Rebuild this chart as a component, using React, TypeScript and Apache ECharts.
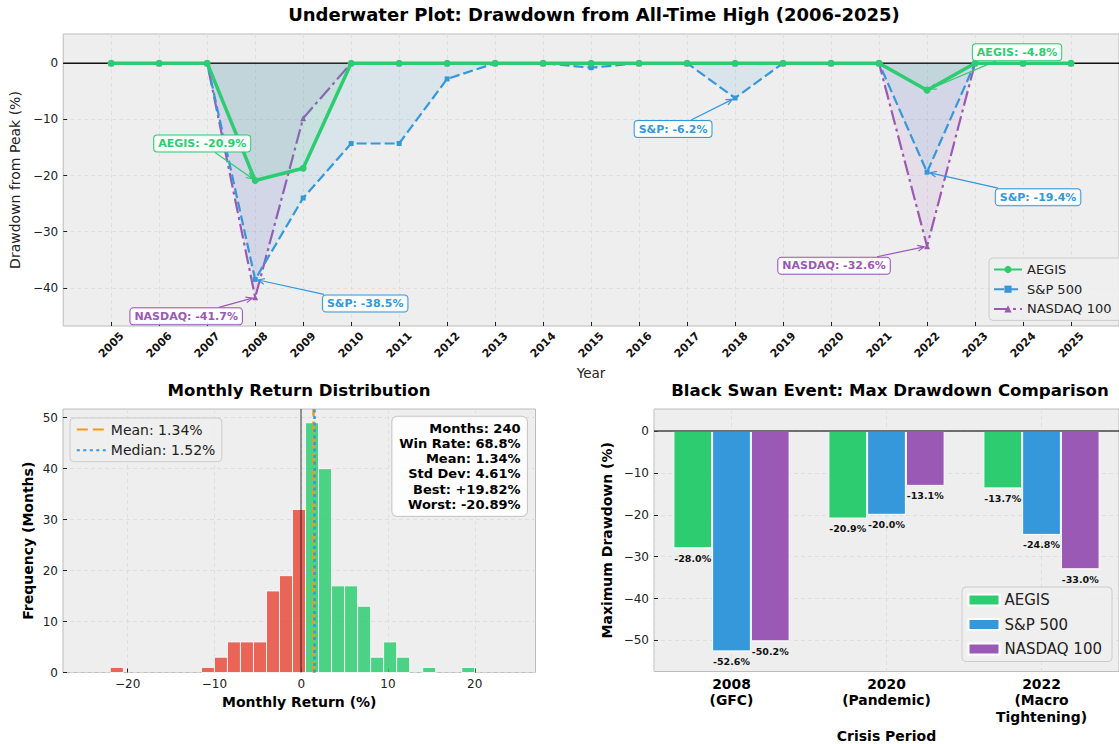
import React, { useEffect, useRef } from 'react';
import * as echarts from 'echarts';

const FONT = '"DejaVu Sans", Verdana, sans-serif';

// ---------- Data ----------
const YEARS = [2005, 2006, 2007, 2008, 2009, 2010, 2011, 2012, 2013, 2014, 2015, 2016, 2017, 2018, 2019, 2020, 2021, 2022, 2023, 2024, 2025];
const AEGIS_DD = [0, 0, 0, -20.9, -18.7, 0, 0, 0, 0, 0, 0, 0, 0, 0, 0, 0, 0, -4.8, 0, 0, 0];
const SP500_DD = [0, 0, 0, -38.5, -24.0, -14.3, -14.3, -2.8, 0, 0, -0.8, 0, 0, -6.2, 0, 0, 0, -19.4, 0, 0, 0];
const NASDAQ_DD = [0, 0, 0, -41.7, -9.8, 0, 0, 0, 0, 0, 0, 0, 0, 0, 0, 0, 0, -32.6, 0, 0, 0];
const DD_TICKS = [0, -10, -20, -30, -40];

const BIN_EDGES = [-22, -20.5, -19, -17.5, -16, -14.5, -13, -11.5, -10, -8.5, -7, -5.5, -4, -2.5, -1, 0.5, 2, 3.5, 5, 6.5, 8, 9.5, 11, 12.5, 14, 15.5, 17, 18.5, 20];
const BIN_COUNTS = [1, 0, 0, 0, 0, 0, 0, 1, 3, 6, 6, 6, 16, 19, 32, 49, 40, 17, 17, 13, 3, 6, 3, 0, 1, 0, 0, 1];
const RET_TICKS = [-20, -10, 0, 10, 20];
const FREQ_TICKS = [0, 10, 20, 30, 40, 50];
const MEAN_RET = 1.34;
const MEDIAN_RET = 1.52;
const STAT_MONTHS = 240;
const STAT_WIN = 68.8;
const STAT_STD = 4.61;
const STAT_BEST = 19.82;
const STAT_WORST = -20.89;

const CRISES = ['2008\n(GFC)', '2020\n(Pandemic)', '2022\n(Macro\nTightening)'];
const AEGIS_MDD = [-28.0, -20.9, -13.7];
const SP500_MDD = [-52.6, -20.0, -24.8];
const NASDAQ_MDD = [-50.2, -13.1, -33.0];
const MDD_TICKS = [0, -10, -20, -30, -40, -50];

// ---------- Styles ----------
const GREEN = '#2ecc71';
const BLUE = '#3498db';
const PURPLE = '#9b59b6';
const RED = '#e74c3c';
const ORANGE = '#f39c12';
const BG = '#eeeeee';
const SPINE = '#bcbcbc';
const GRIDLINE = { color: '#dadada', type: [4, 3] as any, width: 0.8 };
const TICK = { inside: true, length: 4, lineStyle: { color: '#222', width: 1 } };
const TICKLABEL = { fontSize: 12, color: '#222', fontFamily: FONT, margin: 5 };
const NO_LINE = { show: false, onZero: false };

const X_MIN = 2004;
const X_MAX = 2026;

const isMult10 = (v: number) => Math.abs(v / 10 - Math.round(v / 10)) < 1e-6;
const fmtNum = (v: number) => (v < 0 ? '\u2212' + Math.abs(v) : String(v));
const tenFmt = (v: number) => (isMult10(v) ? fmtNum(v) : '');

const SERIES_INFO: Record<string, { data: number[]; color: string }> = {
  AEGIS: { data: AEGIS_DD, color: GREEN },
  'S&P': { data: SP500_DD, color: BLUE },
  NASDAQ: { data: NASDAQ_DD, color: PURPLE },
};

// annotation placement (pixel offsets of the label box from the annotated point)
const ANNOTS = [
  { s: 'AEGIS', year: 2008, dx: -53, dy: -37 },
  { s: 'NASDAQ', year: 2008, dx: -69, dy: 19 },
  { s: 'S&P', year: 2008, dx: 110, dy: 24 },
  { s: 'S&P', year: 2018, dx: -62, dy: 31 },
  { s: 'AEGIS', year: 2022, dx: 90, dy: -38 },
  { s: 'S&P', year: 2022, dx: 111, dy: 25 },
  { s: 'NASDAQ', year: 2022, dx: -93, dy: 19.5 },
];

function buildOption(): any {
  const meanLabel = `Mean: ${MEAN_RET.toFixed(2)}%`;
  const medianLabel = `Median: ${MEDIAN_RET.toFixed(2)}%`;
  const legendCommon = {
    orient: 'vertical',
    selectedMode: false,
    backgroundColor: 'rgba(238,238,238,0.85)',
    borderColor: '#cccccc',
    borderWidth: 1,
    borderRadius: 4,
  };
  const markCommon = {
    silent: true,
    symbol: ['none', 'none'],
    label: { show: false },
    emphasis: { disabled: true },
  };
  return {
    animation: false,
    textStyle: { fontFamily: FONT },
    title: [
      {
        text: 'Underwater Plot: Drawdown from All-Time High (2006-2025)',
        left: 594, top: 5, textAlign: 'center', padding: 0,
        textStyle: { fontSize: 18, fontWeight: 'bold', color: '#000', fontFamily: FONT },
      },
      {
        text: 'Monthly Return Distribution',
        left: 299, top: 382, textAlign: 'center', padding: 0,
        textStyle: { fontSize: 16.6, fontWeight: 'bold', color: '#000', fontFamily: FONT },
      },
      {
        text: 'Black Swan Event: Max Drawdown Comparison',
        left: 890, top: 382, textAlign: 'center', padding: 0,
        textStyle: { fontSize: 16.6, fontWeight: 'bold', color: '#000', fontFamily: FONT },
      },
    ],
    grid: [
      { left: 63, top: 34, width: 1062, height: 292, show: true, backgroundColor: BG, borderColor: SPINE, borderWidth: 1 },
      { left: 63, top: 409, width: 472.5, height: 263.5, show: true, backgroundColor: BG, borderColor: SPINE, borderWidth: 1 },
      { left: 654, top: 409, width: 472, height: 262.5, show: true, backgroundColor: BG, borderColor: SPINE, borderWidth: 1 },
    ],
    legend: [
      {
        ...legendCommon,
        data: ['AEGIS', 'S&P 500', 'NASDAQ 100'],
        left: 989, top: 258,
        itemWidth: 28, itemHeight: 9, itemGap: 6.7,
        padding: [5, 30, 5, 4],
        textStyle: { fontFamily: FONT, fontSize: 13, color: '#222' },
      },
      {
        ...legendCommon,
        data: [meanLabel, medianLabel],
        left: 70, top: 418,
        itemWidth: 29, itemHeight: 10, itemGap: 6.7,
        padding: [4.5, 6.5, 4.5, 5.8],
        itemStyle: { opacity: 0 },
        textStyle: { fontFamily: FONT, fontSize: 14, color: '#222' },
      },
      {
        ...legendCommon,
        data: ['AEGIS#b', 'S&P 500#b', 'NASDAQ 100#b'],
        formatter: (n: string) => n.replace('#b', ''),
        icon: 'rect',
        left: 962, top: 587,
        itemWidth: 31, itemHeight: 11, itemGap: 9.5,
        padding: [5.5, 10, 5, 5.5],
        textStyle: { fontFamily: FONT, fontSize: 15, color: '#222' },
      },
    ],
    xAxis: [
      {
        gridIndex: 0, type: 'value', min: X_MIN, max: X_MAX, interval: 1,
        name: 'Year', nameLocation: 'middle', nameGap: 40,
        nameTextStyle: { fontSize: 13.5, color: '#222', fontFamily: FONT },
        axisLine: NO_LINE,
        axisTick: { ...TICK, customValues: YEARS },
        axisLabel: {
          ...TICKLABEL, fontSize: 11, fontWeight: 'bold', color: '#111', rotate: 45, margin: 19,
          align: 'center', verticalAlign: 'middle',
          customValues: YEARS,
          formatter: (v: number) => (v < YEARS[0] || v > YEARS[YEARS.length - 1] ? '' : String(v)),
        },
        splitLine: { show: true, lineStyle: GRIDLINE },
      },
      {
        gridIndex: 1, type: 'value', min: -27.45, max: 27,
        name: 'Monthly Return (%)', nameLocation: 'middle', nameGap: 22,
        nameTextStyle: { fontSize: 14, fontWeight: 'bold', color: '#000', fontFamily: FONT },
        axisLine: NO_LINE,
        axisTick: { ...TICK, customValues: RET_TICKS },
        axisLabel: { ...TICKLABEL, customValues: RET_TICKS, formatter: tenFmt },
        splitLine: { show: true, lineStyle: GRIDLINE },
      },
      {
        gridIndex: 2, type: 'category', data: CRISES,
        name: 'Crisis Period', nameLocation: 'middle', nameGap: 57,
        nameTextStyle: { fontSize: 14, fontWeight: 'bold', color: '#000', fontFamily: FONT },
        axisLine: NO_LINE,
        axisTick: { ...TICK, alignWithLabel: true },
        axisLabel: { fontSize: 13.9, fontWeight: 'bold', color: '#000', fontFamily: FONT, lineHeight: 16.5, margin: 4, interval: 0 },
        splitLine: { show: false },
      },
      {
        gridIndex: 2, type: 'value', min: -0.5, max: 2.5, minInterval: 1, maxInterval: 1, position: 'top',
        axisLine: NO_LINE, axisTick: { show: false }, axisLabel: { show: false },
        splitLine: { show: true, lineStyle: GRIDLINE },
      },
    ],
    yAxis: [
      {
        gridIndex: 0, type: 'value', min: -46.8, max: 5.2,
        name: 'Drawdown from Peak (%)', nameLocation: 'middle', nameGap: 38, nameRotate: 90,
        nameTextStyle: { fontSize: 14, color: '#222', fontFamily: FONT },
        axisLine: NO_LINE,
        axisTick: { ...TICK, customValues: DD_TICKS },
        axisLabel: { ...TICKLABEL, customValues: DD_TICKS, formatter: tenFmt },
        splitLine: { show: true, lineStyle: GRIDLINE },
      },
      {
        gridIndex: 1, type: 'value', min: 0, max: 51.7,
        name: 'Frequency (Months)', nameLocation: 'middle', nameGap: 28, nameRotate: 90,
        nameTextStyle: { fontSize: 14, fontWeight: 'bold', color: '#000', fontFamily: FONT },
        axisLine: NO_LINE,
        axisTick: { ...TICK, customValues: FREQ_TICKS },
        axisLabel: { ...TICKLABEL, customValues: FREQ_TICKS, formatter: tenFmt },
        splitLine: { show: true, lineStyle: GRIDLINE },
      },
      {
        gridIndex: 2, type: 'value', min: -57.4, max: 5.25,
        name: 'Maximum Drawdown (%)', nameLocation: 'middle', nameGap: 40, nameRotate: 90,
        nameTextStyle: { fontSize: 14, fontWeight: 'bold', color: '#000', fontFamily: FONT },
        axisLine: NO_LINE,
        axisTick: { ...TICK, customValues: MDD_TICKS },
        axisLabel: { ...TICKLABEL, customValues: MDD_TICKS, formatter: tenFmt },
        splitLine: { show: true, lineStyle: GRIDLINE },
      },
    ],
    series: [
      // --- underwater plot ---
      {
        type: 'line', name: '__zero', xAxisIndex: 0, yAxisIndex: 0, silent: true,
        data: [[X_MIN, 0], [X_MAX, 0]], symbol: 'none',
        lineStyle: { color: '#111', width: 1.5 }, z: 1,
      },
      {
        type: 'line', name: 'NASDAQ 100', xAxisIndex: 0, yAxisIndex: 0,
        data: YEARS.map((y, i) => [y, NASDAQ_DD[i]]),
        symbol: 'triangle', symbolSize: 6, color: PURPLE,
        itemStyle: { color: PURPLE },
        lineStyle: { color: PURPLE, width: 2.2, type: [15, 4, 3, 4] },
        areaStyle: { color: PURPLE, opacity: 0.1 },
        z: 2,
      },
      {
        type: 'line', name: 'S&P 500', xAxisIndex: 0, yAxisIndex: 0,
        data: YEARS.map((y, i) => [y, SP500_DD[i]]),
        symbol: 'rect', symbolSize: 5, color: BLUE,
        itemStyle: { color: BLUE },
        lineStyle: { color: BLUE, width: 2.2, type: [10, 4] },
        areaStyle: { color: BLUE, opacity: 0.1 },
        z: 3,
      },
      {
        type: 'line', name: 'AEGIS', xAxisIndex: 0, yAxisIndex: 0,
        data: YEARS.map((y, i) => [y, AEGIS_DD[i]]),
        symbol: 'circle', symbolSize: 7, color: GREEN,
        itemStyle: { color: GREEN },
        lineStyle: { color: GREEN, width: 3.5 },
        areaStyle: { color: GREEN, opacity: 0.1 },
        z: 4,
      },
      // --- histogram ---
      {
        type: 'custom', name: '__hist', xAxisIndex: 1, yAxisIndex: 1, silent: true,
        data: BIN_COUNTS.map((c, i) => [BIN_EDGES[i], BIN_EDGES[i + 1], c]),
        encode: { x: [0, 1], y: 2 },
        renderItem: (params: any, api: any) => {
          const x0 = api.value(0);
          const x1 = api.value(1);
          const c = api.value(2);
          if (!c) return { type: 'group', children: [] };
          const p0 = api.coord([x0, c]);
          const p1 = api.coord([x1, 0]);
          return {
            type: 'rect',
            shape: { x: p0[0], y: p0[1], width: p1[0] - p0[0], height: p1[1] - p0[1] },
            style: { fill: (x0 + x1) / 2 < 0 ? RED : GREEN, opacity: 0.85, stroke: '#ffffff', lineWidth: 1 },
          };
        },
        z: 2,
      },
      {
        type: 'line', name: '__zerov', xAxisIndex: 1, yAxisIndex: 1, data: [],
        markLine: { ...markCommon, lineStyle: { color: 'rgba(0,0,0,0.5)', width: 1.5, type: 'solid' }, data: [{ xAxis: 0 }] },
      },
      {
        type: 'line', name: meanLabel, xAxisIndex: 1, yAxisIndex: 1, data: [], symbol: 'none',
        color: ORANGE, itemStyle: { color: ORANGE },
        lineStyle: { color: ORANGE, width: 2.5, type: [11, 5] },
        markLine: { ...markCommon, lineStyle: { color: ORANGE, width: 2.5, type: [11, 5] }, data: [{ xAxis: MEAN_RET }] },
      },
      {
        type: 'line', name: medianLabel, xAxisIndex: 1, yAxisIndex: 1, data: [], symbol: 'none',
        color: BLUE, itemStyle: { color: BLUE },
        lineStyle: { color: BLUE, width: 2.5, type: [3, 3.5] },
        markLine: { ...markCommon, lineStyle: { color: BLUE, width: 2.5, type: [3, 3.5] }, data: [{ xAxis: MEDIAN_RET }] },
      },
      // --- black swan bars ---
      ...[
        { name: 'AEGIS#b', data: AEGIS_MDD, color: GREEN },
        { name: 'S&P 500#b', data: SP500_MDD, color: BLUE },
        { name: 'NASDAQ 100#b', data: NASDAQ_MDD, color: PURPLE },
      ].map((s, idx) => ({
        type: 'bar', name: s.name, xAxisIndex: 2, yAxisIndex: 2,
        data: s.data, barWidth: '25%', barGap: '0%',
        color: s.color,
        itemStyle: { color: s.color, borderColor: '#ffffff', borderWidth: 1 },
        label: {
          show: true, position: 'bottom', distance: 5,
          formatter: (p: any) => `${Number(p.value).toFixed(1)}%`,
          fontSize: 9.5, fontWeight: 'bold', color: '#111', fontFamily: FONT,
        },
        markLine: idx === 0
          ? { ...markCommon, lineStyle: { color: '#444', width: 1.5, type: 'solid' }, data: [{ yAxis: 0 }] }
          : undefined,
      })),
    ],
  };
}

export default function App() {
  const ref = useRef<HTMLDivElement>(null);
  useEffect(() => {
    document.body.style.margin = '0';
    if (!ref.current) return;
    const chart = echarts.init(ref.current, null, { renderer: 'svg' });
    chart.setOption(buildOption());

    const graphics: any[] = [];
    // statistics box
    const statLines = [
      `Months: ${STAT_MONTHS}`,
      `Win Rate: ${STAT_WIN.toFixed(1)}%`,
      `Mean: ${MEAN_RET.toFixed(2)}%`,
      `Std Dev: ${STAT_STD.toFixed(2)}%`,
      `Best: +${STAT_BEST.toFixed(2)}%`,
      `Worst: ${STAT_WORST.toFixed(2)}%`,
    ];
    graphics.push({
      type: 'text', x: 527, y: 416.7, z: 50,
      style: {
        text: statLines.join('\n'),
        font: `bold 13px ${FONT}`, fill: '#000',
        align: 'right', verticalAlign: 'top', lineHeight: 15.2,
        backgroundColor: 'rgba(255,255,255,0.85)', borderColor: '#c8c8c8', borderWidth: 1, borderRadius: 5,
        padding: [4, 6.5, 4, 7],
      },
    });

    // annotations on the underwater plot
    ANNOTS.forEach((a) => {
      const info = SERIES_INFO[a.s];
      const v = info.data[YEARS.indexOf(a.year)];
      const text = `${a.s}: ${v.toFixed(1)}%`;
      const T = chart.convertToPixel({ gridIndex: 0 }, [a.year, v]) as number[];
      const C = [T[0] + a.dx, T[1] + a.dy];
      const vx = T[0] - C[0];
      const vy = T[1] - C[1];
      const len = Math.hypot(vx, vy);
      const ux = vx / len;
      const uy = vy / len;
      const hw = (text.length * 0.66 * 11) / 2 + 4;
      const hh = 9;
      const tBox = Math.min(hw / Math.max(Math.abs(ux), 1e-6), hh / Math.max(Math.abs(uy), 1e-6));
      const S = [C[0] + ux * tBox, C[1] + uy * tBox];
      const E = [T[0] - ux * 3, T[1] - uy * 3];
      const head = (ang: number) => {
        const bx = -ux;
        const by = -uy;
        const c = Math.cos(ang);
        const s = Math.sin(ang);
        return [E[0] + (bx * c - by * s) * 7, E[1] + (bx * s + by * c) * 7];
      };
      graphics.push({
        type: 'line', z: 40, silent: true,
        shape: { x1: S[0], y1: S[1], x2: E[0], y2: E[1] },
        style: { stroke: info.color, lineWidth: 1.2 },
      });
      graphics.push({
        type: 'polyline', z: 40, silent: true,
        shape: { points: [head(0.42), E, head(-0.42)] },
        style: { stroke: info.color, lineWidth: 1.2, fill: 'none' },
      });
      graphics.push({
        type: 'text', x: C[0], y: C[1], z: 45, silent: true,
        style: {
          text, font: `bold 11px ${FONT}`, fill: info.color,
          align: 'center', verticalAlign: 'middle',
          backgroundColor: 'rgba(255,255,255,0.88)', borderColor: info.color, borderWidth: 1, borderRadius: 3,
          padding: [3, 4, 2, 4],
        },
      });
    });
    chart.setOption({ graphic: graphics });

    return () => chart.dispose();
  }, []);
  return (
    <div
      ref={ref}
      style={{ position: 'absolute', left: 0, top: 0, width: 1119, height: 744, background: '#ffffff' }}
    />
  );
}
